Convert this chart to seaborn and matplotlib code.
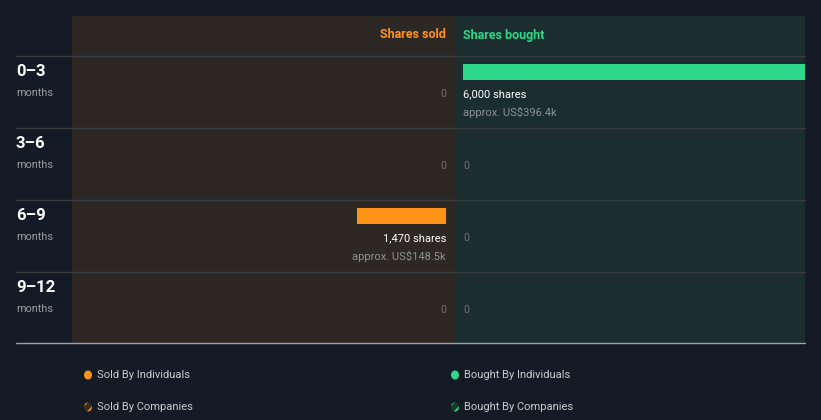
import matplotlib
matplotlib.use("Agg")
import matplotlib.pyplot as plt
from matplotlib.patches import Rectangle, Ellipse
import seaborn as sns
import pandas as pd

# ---- data ----
periods = ["0–3", "3–6", "6–9", "9–12"]
period_unit = "months"
sold_shares = [0, 0, 1470, 0]
bought_shares = [6000, 0, 0, 0]
sold_value_k = [0, 0, 148.5, 0]
bought_value_k = [396.4, 0, 0, 0]
legend_labels = ["Sold By Individuals", "Bought By Individuals",
                 "Sold By Companies", "Bought By Companies"]

# ---- style ----
sns.set_theme(style="white")
plt.rcParams['font.family'] = ['Roboto', 'DejaVu Sans']
plt.rcParams['hatch.linewidth'] = 1.5

BG = "#151b26"
SOLD_BG = "#2d2823"
BOUGHT_BG = "#1b2e2d"
ORANGE = "#ff9317"
GREEN = "#2ed88a"
GRID = "#3c3d3f"
W, H = 821, 420

fig = plt.figure(figsize=(W / 100, H / 100), dpi=100, facecolor=BG)


def box(x0, y0, x1, y1):
    return [x0 / W, 1 - y1 / H, (x1 - x0) / W, (y1 - y0) / H]


# background axes in pixel coords
bg = fig.add_axes([0, 0, 1, 1])
bg.set_xlim(0, W)
bg.set_ylim(H, 0)
bg.axis("off")
bg.add_patch(Rectangle((72, 16), 383, 327, color=SOLD_BG, lw=0))
bg.add_patch(Rectangle((455, 16), 350, 327, color=BOUGHT_BG, lw=0))
for yy in [56, 128, 200, 272]:
    bg.plot([16, 805], [yy, yy], color=GRID, lw=1)
bg.plot([16, 805], [343, 343], color="#9aa0a6", lw=1)

bg.text(446, 35, "Shares sold", color=ORANGE, fontsize=9, fontweight="bold",
        ha="right", va="center")
bg.text(463, 35, "Shares bought", color=GREEN, fontsize=9, fontweight="bold",
        ha="left", va="center")

for i, p in enumerate(periods):
    top = 56 + 72 * i
    bg.text(16, top + 15, p, color="white", fontsize=12, fontweight="bold",
            ha="left", va="center")
    bg.text(16, top + 37, period_unit, color="#9a9ea3", fontsize=7.8,
            ha="left", va="center")

# legend
leg_colors = [ORANGE, GREEN, ORANGE, GREEN]
leg_pos = [(88, 375), (455, 375), (88, 407), (455, 407)]
for (lx, ly), lab, c, k in zip(leg_pos, legend_labels, leg_colors, range(4)):
    if k < 2:
        bg.add_patch(Ellipse((lx, ly), 8, 9, color=c, lw=0))
    else:
        bg.add_patch(Ellipse((lx, ly), 8, 9, facecolor="#3a2d1c" if k == 2 else "#173a2c",
                             edgecolor=c, lw=0, hatch="///"))
    bg.text(lx + 9, ly, lab, color="#c9cdd2", fontsize=8, ha="left",
            va="center", fontstretch="condensed")

df = pd.DataFrame({"period": periods, "sold": sold_shares,
                   "bought": bought_shares,
                   "sold_k": sold_value_k, "bought_k": bought_value_k})

# sold axis (x inverted), bought axis
ax_s = fig.add_axes(box(72, 56, 446, 344))
ax_b = fig.add_axes(box(463, 56, 805, 344))
sns.barplot(data=df, y="period", x="sold", order=periods, orient="h",
            color=ORANGE, saturation=1, width=0.222, linewidth=0, ax=ax_s)
sns.barplot(data=df, y="period", x="bought", order=periods, orient="h",
            color=GREEN, saturation=1, width=0.222, linewidth=0, ax=ax_b)
ax_s.set_xlim(6200, 0)
ax_b.set_xlim(0, 6000)
for ax in (ax_s, ax_b):
    ax.set_ylim(3.78, -0.22)
    ax.axis("off")
    ax.patch.set_alpha(0)

for ax, col, kcol, ha in ((ax_s, "sold", "sold_k", "right"),
                          (ax_b, "bought", "bought_k", "left")):
    for i, row in df.iterrows():
        if row[col] > 0:
            ax.text(0, i + 0.31, f"{row[col]:,} shares", color="white",
                    fontsize=8, ha=ha, va="center")
            ax.text(0, i + 0.56, f"approx. US${row[kcol]:.1f}k",
                    color="#8b9194", fontsize=8, ha=ha, va="center")
        else:
            ax.text(0, i + 0.31, "0", color="#707070", fontsize=7.5,
                    ha=ha, va="center")

fig.savefig("out.png", dpi=100, facecolor=BG)
